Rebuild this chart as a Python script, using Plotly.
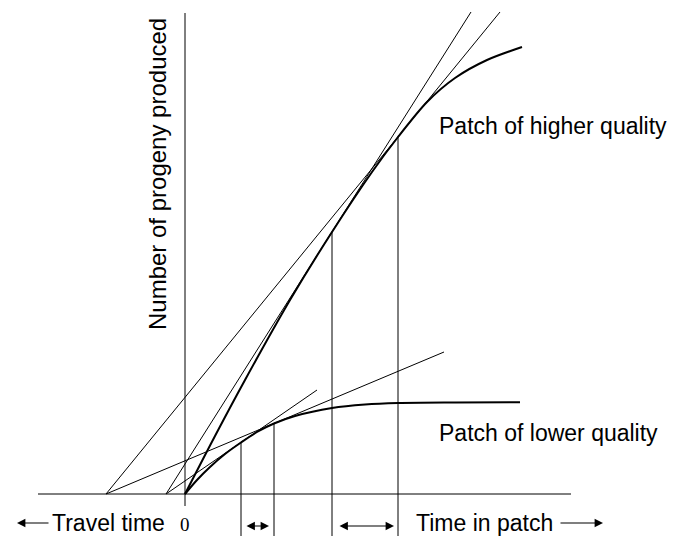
import plotly.graph_objects as go

# ---- data (arbitrary units: time in patch t, progeny Y; origin at the axes crossing) ----
high_t = [0, 30, 60, 105, 147, 187, 213, 242, 270, 302, 337]
high_y = [0, 58, 114, 194, 262, 322, 357, 392, 416, 434, 447]

low_t = [0, 12, 25, 40, 56, 72, 89, 110, 147, 180, 213, 270, 335]
low_y = [0, 14, 27, 40, 51.5, 62, 70.5, 78, 86, 89.5, 91, 91.5, 91.7]

# tangent lines: start (travel time on baseline) -> end
tan_x0 = [-79, -19, -79, -19]
tan_y0 = [0, 0, 0, 0]
tan_x1 = [315, 286, 259, 132]
tan_y1 = [482, 482, 142, 104]

# optimal leaving times and the gain reached at them
leave_t = [56, 89, 147, 213]
leave_y = [51.5, 70.5, 262, 357]

base_x = [-147, 386]
axis_y = [-12, 481]
bottom_y = -42

labels_patch = ["Patch of higher quality", "Patch of lower quality"]
labels_patch_y = [368, 61]

fig = go.Figure()

# baseline and vertical axis
fig.add_trace(go.Scatter(x=base_x, y=[0, 0], mode="lines",
                         line=dict(color="black", width=1), hoverinfo="skip"))
fig.add_trace(go.Scatter(x=[0, 0], y=axis_y, mode="lines",
                         line=dict(color="black", width=1), hoverinfo="skip"))

# tangent lines
for x0, y0, x1, y1 in zip(tan_x0, tan_y0, tan_x1, tan_y1):
    fig.add_trace(go.Scatter(x=[x0, x1], y=[y0, y1], mode="lines",
                             line=dict(color="black", width=1), hoverinfo="skip"))

# vertical drop lines
for t, yv in zip(leave_t, leave_y):
    fig.add_trace(go.Scatter(x=[t, t], y=[bottom_y, yv], mode="lines",
                             line=dict(color="black", width=1), hoverinfo="skip"))

# gain curves
fig.add_trace(go.Scatter(x=high_t, y=high_y, mode="lines",
                         line=dict(color="black", width=2, shape="spline", smoothing=0.8),
                         hoverinfo="skip"))
fig.add_trace(go.Scatter(x=low_t, y=low_y, mode="lines",
                         line=dict(color="black", width=2, shape="spline", smoothing=0.8),
                         hoverinfo="skip"))

font_sans = dict(family="Liberation Sans, Arial, sans-serif", size=23, color="black")

ann = []
ann.append(dict(x=252, y=labels_patch_y[0], text=labels_patch[0], xanchor="left",
                yanchor="middle", showarrow=False, font=font_sans))
ann.append(dict(x=252, y=labels_patch_y[1], text=labels_patch[1], xanchor="left",
                yanchor="middle", showarrow=False, font=font_sans))
ann.append(dict(x=-28, y=320, text="Number of progeny produced", textangle=-90,
                xanchor="center", yanchor="middle", showarrow=False,
                font=dict(family="Liberation Sans, Arial, sans-serif", size=24, color="black")))
ann.append(dict(x=-135, y=-29, text="Travel time", xanchor="left", yanchor="middle",
                showarrow=False, font=font_sans))
ann.append(dict(x=229, y=-29, text="Time in patch", xanchor="left", yanchor="middle",
                showarrow=False, font=font_sans))
ann.append(dict(x=0, y=bottom_y, text="0", xanchor="center", yanchor="bottom",
                showarrow=False, borderpad=0,
                font=dict(family="Liberation Serif, Times New Roman, serif", size=19, color="black")))

arrow_common = dict(xref="x", yref="y", axref="x", ayref="y", text="", showarrow=True,
                    arrowhead=2, arrowsize=1.4, arrowwidth=1.2, arrowcolor="black",
                    standoff=0, startstandoff=0)
# single arrows
ann.append(dict(x=-168, y=-29, ax=-135, ay=-29, arrowside="end", **arrow_common))
ann.append(dict(x=418, y=-29, ax=374, ay=-29, arrowside="end", **arrow_common))
# double arrows
ann.append(dict(x=84, y=-32, ax=60, ay=-32, arrowside="end+start", startarrowhead=2,
                startarrowsize=1.4, **arrow_common))
ann.append(dict(x=209, y=-32, ax=153, ay=-32, arrowside="end+start", startarrowhead=2,
                startarrowsize=1.4, **arrow_common))

fig.update_layout(
    width=678, height=536,
    margin=dict(l=0, r=0, t=0, b=0),
    paper_bgcolor="white", plot_bgcolor="white",
    showlegend=False,
    xaxis=dict(range=[-185, 493], visible=False, fixedrange=True),
    yaxis=dict(range=[-42, 494], visible=False, fixedrange=True),
    annotations=ann,
)

fig.write_html("out.html", config={"displayModeBar": False},
               post_script="document.body.style.margin='0';document.body.style.padding='0';")
